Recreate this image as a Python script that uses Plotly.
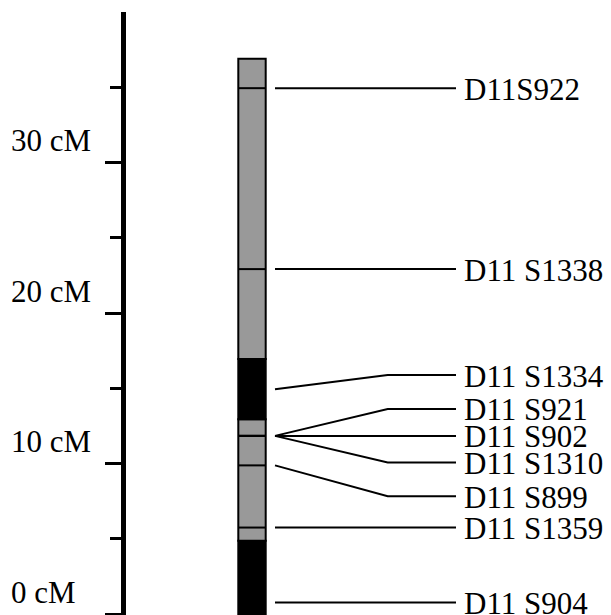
import plotly.graph_objects as go

# ---------------- data ----------------
marker_names = ["D11S922", "D11 S1338", "D11 S1334", "D11 S921", "D11 S902",
                "D11 S1310", "D11 S899", "D11 S1359", "D11 S904"]
# position of each marker on the chromosome (cM)
marker_pos = [34.94, 22.92, 14.94, 11.84, 11.84, 11.84, 9.88, 5.75, 0.77]
# position of each marker label (cM)
label_pos = [34.94, 22.92, 15.88, 13.63, 11.84, 10.07, 7.83, 5.75, 0.77]

band_start = [0.0, 4.88, 12.95, 16.94]
band_end = [4.88, 12.95, 16.94, 36.9]
band_color = ["#000000", "#999999", "#000000", "#999999"]

major_ticks = [0, 10, 20, 30]
minor_ticks = [5, 15, 25, 35]
tick_labels = ["0 cM", "10 cM", "20 cM", "30 cM"]

# ---------------- layout constants (pixels on x axis) ----------------
W, H = 611, 615
AXIS_X = 123.0
BAR_C, BAR_W = 252.0, 27.4
LINE_X0, BEND_X, LINE_X1 = 275.0, 387.7, 456.0
LABEL_X = 461.5
FONT = "Liberation Serif, Times New Roman, serif"
FS = 31

fig = go.Figure()

# chromosome bands
fig.add_trace(go.Bar(
    x=[BAR_C] * len(band_start),
    base=band_start,
    y=[e - s for s, e in zip(band_start, band_end)],
    width=BAR_W,
    marker=dict(color=band_color, line=dict(color="black", width=2)),
    hoverinfo="skip", showlegend=False,
))

# marker ticks across the bar
bx, by = [], []
for p in marker_pos:
    bx += [BAR_C - BAR_W / 2, BAR_C + BAR_W / 2, None]
    by += [p, p, None]
fig.add_trace(go.Scatter(x=bx, y=by, mode="lines",
                         line=dict(color="black", width=2),
                         hoverinfo="skip", showlegend=False))

# connector lines from bar to labels
for name, p, q in zip(marker_names, marker_pos, label_pos):
    fig.add_trace(go.Scatter(
        x=[LINE_X0, BEND_X, LINE_X1], y=[p, q, q], mode="lines",
        line=dict(color="black", width=2),
        hoverinfo="skip", showlegend=False))
    fig.add_annotation(x=LABEL_X, y=q, xref="x", yref="y", text=name,
                       showarrow=False, xanchor="left", yanchor="middle",
                       yshift=-1,
                       font=dict(family=FONT, size=FS, color="black"))

# axis labels
for v, t in zip(major_ticks, tick_labels):
    fig.add_annotation(x=9.0, y=v, xref="x", yref="y", text=t,
                       showarrow=False, xanchor="left", yanchor="middle",
                       yshift=22,
                       font=dict(family=FONT, size=FS, color="black"))

fig.update_layout(
    width=W, height=H,
    margin=dict(l=0, r=0, t=0, b=0),
    paper_bgcolor="white", plot_bgcolor="white",
    barmode="overlay",
    xaxis=dict(range=[0, W], visible=False, fixedrange=True),
    yaxis=dict(range=[-0.06, 40], domain=[0, 1 - 12 / H],
               anchor="free", position=AXIS_X / W,
               showline=True, linewidth=5, linecolor="black",
               ticks="outside", tickvals=major_ticks, ticklen=16,
               tickwidth=3, tickcolor="black",
               minor=dict(tickvals=minor_ticks, ticks="outside",
                          ticklen=11, tickwidth=3, tickcolor="black",
                          showgrid=False),
               showticklabels=False, showgrid=False, zeroline=False,
               fixedrange=True),
)

fig.write_html("out.html")
